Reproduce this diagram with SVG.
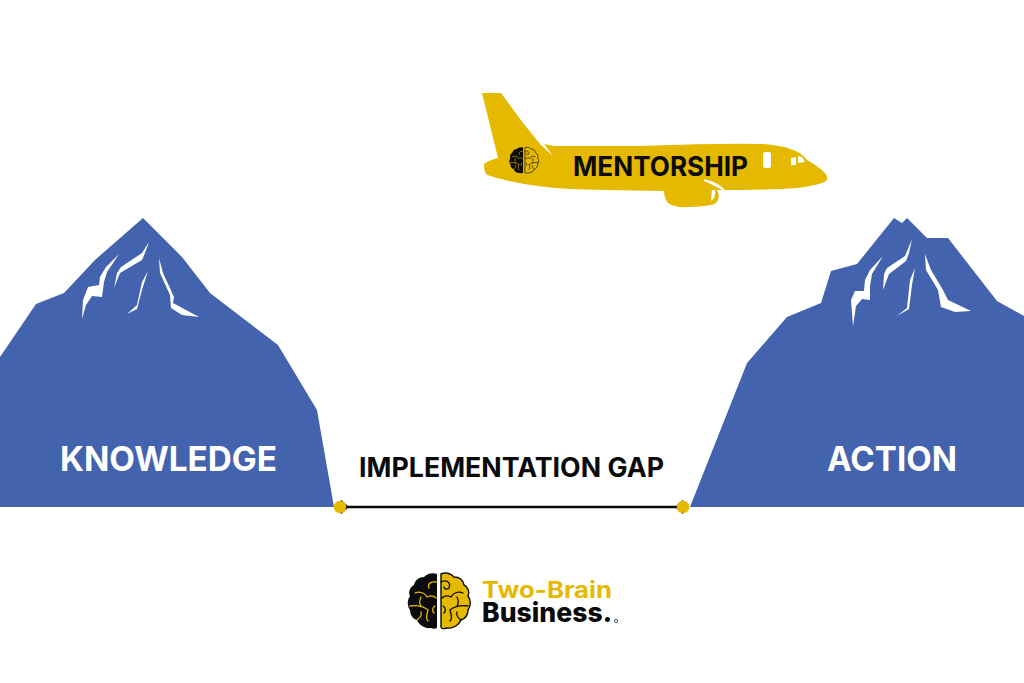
<svg xmlns="http://www.w3.org/2000/svg" xmlns:xlink="http://www.w3.org/1999/xlink" width="1024" height="683" viewBox="0 0 1024 683">
<style>
.mt{fill:#4463ae}.wh{fill:#fff}.ye{fill:#e5b900}.bk{fill:#0b0b0b}
text{font-family:Inter,"Liberation Sans",sans-serif;font-weight:700}
.lab{font-size:34px;fill:#fff}
.blk{fill:#0b0b0b;font-size:27px}
.dot{fill:#e5b900}
.conn{stroke:#0b0b0b;stroke-width:2.4;fill:none}
.head{stroke:#0b0b0b;stroke-width:2.4;fill:none}
.ly{stroke:#e5b900;fill:none;stroke-linecap:round}
.lk{stroke:#0b0b0b;fill:none;stroke-linecap:round}
</style>
<defs>
<marker id="open" viewBox="0 0 10 14" refX="1.5" refY="7" markerWidth="10" markerHeight="14" markerUnits="userSpaceOnUse" orient="auto-start-reverse">
<path d="M8 1 L1.5 7 L8 13" class="head"/>
</marker>
<symbol id="brain" viewBox="0 0 64 57" overflow="visible">
<path class="bk" d="M30 1C25-1 20 1 17 4C12 4 8 7 7 12C3 14 1 19 3 23C0 27 0 33 3 37C3 42 6 46 10 47C12 52 18 56 24 55C27 56 30 56 30 54Z"/>
<path class="ye" d="M34 1C39-1 44 1 47 4C52 4 56 7 57 12C61 14 63 19 61 23C64 27 64 33 61 37C61 42 58 46 54 47C52 52 46 56 40 55C37 56 34 56 34 54Z" stroke="#0b0b0b" stroke-width="1.4"/>
<path class="ly" stroke-width="1.3" d="M30 9C24 8 20 11 22 15M8 20C13 18 18 20 20 24C24 22 27 23 29 25M14 24C12 28 12 30 14 33M3 33C10 32 17 34 21 37M21 37C20 42 18 45 21 48M28 33C25 35 25 38 27 40M10 47C13 45 15 42 14 39"/>
<path class="lk" stroke-width="1.3" d="M34 9C40 6 44 10 42 15C40 17 37 16 37 14M56 20C51 18 46 20 44 24C40 22 37 23 35 25M50 24C52 28 52 30 50 33M61 33C54 32 47 34 43 37M43 37C44 42 46 45 43 48M36 33C39 35 39 38 37 40M54 47C51 45 49 42 50 39"/>
</symbol>
</defs>
<rect width="1024" height="683" fill="#fff"/>

<g id="node-knowledge">
<polygon class="mt" points="0,357 36,304 64,293 95,260 143,218 182,257 210,293 278,345 317,410 334,507 0,507"/>
<g class="wh">
<polygon points="119,254 106,267 100,277 99,285 88,287 83,300 82,319 86,305 92,296 102,297 104,282 107,272"/>
<polygon points="149,242 142,253 121,267 117,273 114,288 120,273 142,260 145,253"/>
<polygon points="148,271 142,282 137,305 127,314 137,309 142,290"/>
<polygon points="159,258 160,273 170,295 171,308 182,315 199,317 173,303 174,297 163,273"/>
</g>
<text class="lab" x="60" y="471" textLength="217" lengthAdjust="spacingAndGlyphs">KNOWLEDGE</text>
</g>

<g id="node-action">
<polygon class="mt" points="690,507 747,363 787,317 821,303 831,271 857,264 894,218 902,223 907,218 927,238 948,238 997,301 1024,316 1024,507"/>
<g class="wh">
<polygon points="883,256 870,270 865,280 864,291 855,291 851,300 853,326 856,306 862,299 870,300 870,286 872,274"/>
<polygon points="912,239 905,256 887,268 884,274 883,290 889,274 906,261 909,253"/>
<polygon points="915,268 910,280 907,308 897,316 909,309 912,285"/>
<polygon points="925,254 926,270 938,290 941,307 955,312 971,311 948,300 943,290 931,270"/>
</g>
<text class="lab" x="827" y="471" textLength="130" lengthAdjust="spacingAndGlyphs">ACTION</text>
</g>

<g id="node-plane">
<path class="ye" d="M482 93H501L523 123L541 145L553 156L544 144L554 146L640 146Q720 143 763 144Q785 146 790 149Q800 151 807 160Q818 166 825 173Q829 178 826 181Q820 185 797 188Q770 190 717 190Q721 197 716 203Q712 206 690 207Q674 208 668 203Q664 198 664 191Q600 190 570 189Q520 186 487 175Q484 172 484 164Q487 161 498 158Z"/>
<path class="wh" d="M704 180Q718 183 724 190Q717 186 704 180Z" stroke="#fff" stroke-width="1.5"/>
<path d="M712 190Q711 196 711 201Q716 198 715 190Z" class="wh"/>
<rect class="wh" x="763" y="152" width="8" height="16" rx="2"/>
<polygon class="wh" points="791,158 796,157 796,165 791,165"/>
<polygon class="wh" points="798,156 802,157 805,162 798,163"/>
<use xlink:href="#brain" href="#brain" x="509" y="147" width="30" height="27"/>
<text class="blk" x="573" y="176" textLength="175" lengthAdjust="spacingAndGlyphs">MENTORSHIP</text>
</g>

<g id="connectors">
<line class="conn" x1="347" y1="507" x2="677" y2="507" marker-start="url(#open)" marker-end="url(#open)"/>
</g>

<g id="node-gap-start"><circle class="dot" cx="340" cy="507" r="6.2"/></g>
<g id="node-gap-end"><circle class="dot" cx="683" cy="507" r="6.2"/></g>
<g id="node-gap-label">
<text class="blk" x="359" y="477" textLength="305" lengthAdjust="spacingAndGlyphs">IMPLEMENTATION GAP</text>
</g>

<g id="node-logo">
<use xlink:href="#brain" href="#brain" x="407" y="573" width="64" height="57"/>
<text x="482" y="598" font-size="23" fill="#e5b900" textLength="130" lengthAdjust="spacingAndGlyphs">Two-Brain</text>
<text x="482" y="622" font-size="27" fill="#0b0b0b" style="font-weight:800" textLength="130" lengthAdjust="spacingAndGlyphs">Business.</text>
<circle cx="616" cy="621" r="1.6" fill="none" stroke="#0b0b0b" stroke-width="0.7"/>
</g>
</svg>
